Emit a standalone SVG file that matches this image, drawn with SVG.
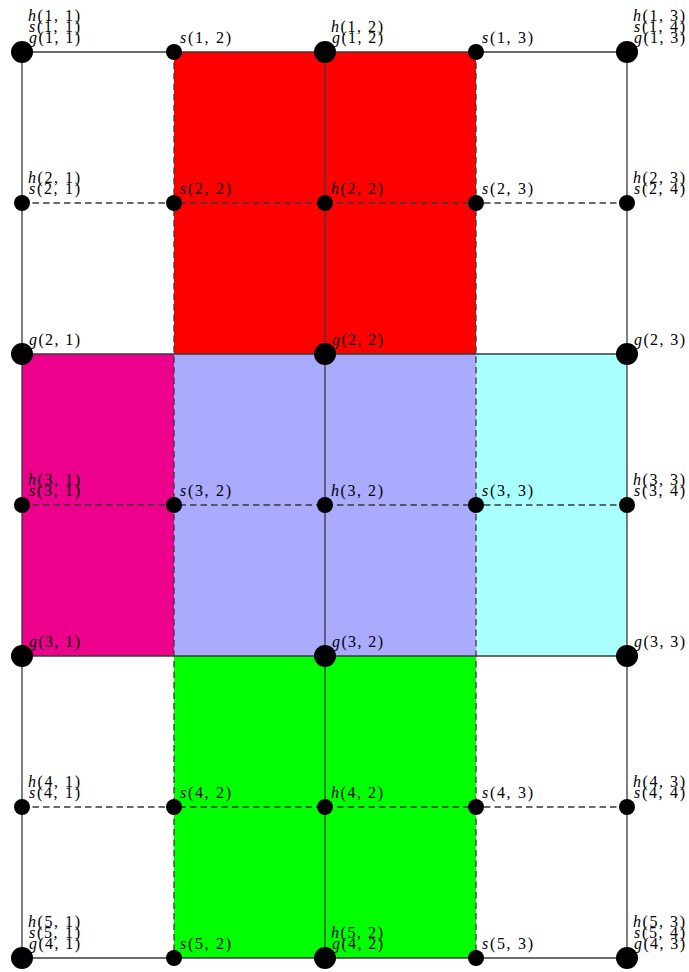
<svg xmlns="http://www.w3.org/2000/svg" width="689" height="972" viewBox="0 0 689 972">
<style>
.solid{stroke:#3a3a3a;stroke-width:1.3;fill:none}
.dash{stroke:#3a3a3a;stroke-width:1.3;fill:none;stroke-dasharray:6.5 4}
.big{fill:#000}
.small{fill:#000}
text{font-family:"Liberation Serif","DejaVu Serif",serif;font-size:16px;fill:#000}
.i{font-style:italic}
</style>
<rect x="0" y="0" width="689" height="972" fill="#fff"/>
<g id="regions">
<rect x="174" y="52" width="302" height="302" fill="#ff0000"/>
<rect x="22" y="354" width="152" height="302" fill="#ec008c"/>
<rect x="174" y="354" width="302" height="302" fill="#aaaaff"/>
<rect x="476" y="354" width="151" height="302" fill="#aaffff"/>
<rect x="174" y="656" width="302" height="302" fill="#00ff00"/>
</g>
<g id="connectors">
<line class="dash" x1="22" y1="203" x2="627" y2="203"/>
<line class="dash" x1="22" y1="505" x2="627" y2="505"/>
<line class="dash" x1="22" y1="807" x2="627" y2="807"/>
<line class="dash" x1="174" y1="52" x2="174" y2="958"/>
<line class="dash" x1="476" y1="52" x2="476" y2="958"/>
<line class="solid" x1="22" y1="52" x2="627" y2="52"/>
<line class="solid" x1="22" y1="354" x2="627" y2="354"/>
<line class="solid" x1="22" y1="656" x2="627" y2="656"/>
<line class="solid" x1="22" y1="958" x2="627" y2="958"/>
<line class="solid" x1="22" y1="52" x2="22" y2="958"/>
<line class="solid" x1="325" y1="52" x2="325" y2="958"/>
<line class="solid" x1="627" y1="52" x2="627" y2="958"/>
</g>
<!-- row 1 -->
<g id="n_1_1"><circle class="big" cx="22" cy="52" r="11"/>
<text x="28" y="20.5" textLength="52" lengthAdjust="spacing"><tspan class="i">h</tspan>(1, 1)</text>
<text x="29" y="31.5" textLength="51" lengthAdjust="spacing"><tspan class="i">s</tspan>(1, 1)</text>
<text x="29" y="42.5" textLength="51" lengthAdjust="spacing"><tspan class="i">g</tspan>(1, 1)</text></g>
<g id="n_1_2"><circle class="small" cx="174" cy="52" r="8"/>
<text x="180" y="42.5" textLength="51" lengthAdjust="spacing"><tspan class="i">s</tspan>(1, 2)</text></g>
<g id="n_1_3"><circle class="big" cx="325" cy="52" r="11"/>
<text x="331" y="31.5" textLength="52" lengthAdjust="spacing"><tspan class="i">h</tspan>(1, 2)</text>
<text x="332" y="42.5" textLength="51" lengthAdjust="spacing"><tspan class="i">g</tspan>(1, 2)</text></g>
<g id="n_1_4"><circle class="small" cx="476" cy="52" r="8"/>
<text x="482" y="42.5" textLength="51" lengthAdjust="spacing"><tspan class="i">s</tspan>(1, 3)</text></g>
<g id="n_1_5"><circle class="big" cx="627" cy="52" r="11"/>
<text x="633" y="20.5" textLength="52" lengthAdjust="spacing"><tspan class="i">h</tspan>(1, 3)</text>
<text x="634" y="31.5" textLength="51" lengthAdjust="spacing"><tspan class="i">s</tspan>(1, 4)</text>
<text x="634" y="42.5" textLength="51" lengthAdjust="spacing"><tspan class="i">g</tspan>(1, 3)</text></g>
<!-- row 2 -->
<g id="n_2_1"><circle class="small" cx="22" cy="203" r="8"/>
<text x="28" y="183" textLength="52" lengthAdjust="spacing"><tspan class="i">h</tspan>(2, 1)</text>
<text x="29" y="194" textLength="51" lengthAdjust="spacing"><tspan class="i">s</tspan>(2, 1)</text></g>
<g id="n_2_2"><circle class="small" cx="174" cy="203" r="8"/>
<text x="180" y="194" textLength="51" lengthAdjust="spacing"><tspan class="i">s</tspan>(2, 2)</text></g>
<g id="n_2_3"><circle class="small" cx="325" cy="203" r="8"/>
<text x="331" y="194" textLength="52" lengthAdjust="spacing"><tspan class="i">h</tspan>(2, 2)</text></g>
<g id="n_2_4"><circle class="small" cx="476" cy="203" r="8"/>
<text x="482" y="194" textLength="51" lengthAdjust="spacing"><tspan class="i">s</tspan>(2, 3)</text></g>
<g id="n_2_5"><circle class="small" cx="627" cy="203" r="8"/>
<text x="633" y="183" textLength="52" lengthAdjust="spacing"><tspan class="i">h</tspan>(2, 3)</text>
<text x="634" y="194" textLength="51" lengthAdjust="spacing"><tspan class="i">s</tspan>(2, 4)</text></g>
<!-- row 3 -->
<g id="n_3_1"><circle class="big" cx="22" cy="354" r="11"/>
<text x="29" y="345" textLength="51" lengthAdjust="spacing"><tspan class="i">g</tspan>(2, 1)</text></g>
<g id="n_3_3"><circle class="big" cx="325" cy="354" r="11"/>
<text x="332" y="345" textLength="51" lengthAdjust="spacing"><tspan class="i">g</tspan>(2, 2)</text></g>
<g id="n_3_5"><circle class="big" cx="627" cy="354" r="11"/>
<text x="634" y="345" textLength="51" lengthAdjust="spacing"><tspan class="i">g</tspan>(2, 3)</text></g>
<!-- row 4 -->
<g id="n_4_1"><circle class="small" cx="22" cy="505" r="8"/>
<text x="28" y="485" textLength="52" lengthAdjust="spacing"><tspan class="i">h</tspan>(3, 1)</text>
<text x="29" y="496" textLength="51" lengthAdjust="spacing"><tspan class="i">s</tspan>(3, 1)</text></g>
<g id="n_4_2"><circle class="small" cx="174" cy="505" r="8"/>
<text x="180" y="496" textLength="51" lengthAdjust="spacing"><tspan class="i">s</tspan>(3, 2)</text></g>
<g id="n_4_3"><circle class="small" cx="325" cy="505" r="8"/>
<text x="331" y="496" textLength="52" lengthAdjust="spacing"><tspan class="i">h</tspan>(3, 2)</text></g>
<g id="n_4_4"><circle class="small" cx="476" cy="505" r="8"/>
<text x="482" y="496" textLength="51" lengthAdjust="spacing"><tspan class="i">s</tspan>(3, 3)</text></g>
<g id="n_4_5"><circle class="small" cx="627" cy="505" r="8"/>
<text x="633" y="485" textLength="52" lengthAdjust="spacing"><tspan class="i">h</tspan>(3, 3)</text>
<text x="634" y="496" textLength="51" lengthAdjust="spacing"><tspan class="i">s</tspan>(3, 4)</text></g>
<!-- row 5 -->
<g id="n_5_1"><circle class="big" cx="22" cy="656" r="11"/>
<text x="29" y="647" textLength="51" lengthAdjust="spacing"><tspan class="i">g</tspan>(3, 1)</text></g>
<g id="n_5_3"><circle class="big" cx="325" cy="656" r="11"/>
<text x="332" y="647" textLength="51" lengthAdjust="spacing"><tspan class="i">g</tspan>(3, 2)</text></g>
<g id="n_5_5"><circle class="big" cx="627" cy="656" r="11"/>
<text x="634" y="647" textLength="51" lengthAdjust="spacing"><tspan class="i">g</tspan>(3, 3)</text></g>
<!-- row 6 -->
<g id="n_6_1"><circle class="small" cx="22" cy="807" r="8"/>
<text x="28" y="787" textLength="52" lengthAdjust="spacing"><tspan class="i">h</tspan>(4, 1)</text>
<text x="29" y="798" textLength="51" lengthAdjust="spacing"><tspan class="i">s</tspan>(4, 1)</text></g>
<g id="n_6_2"><circle class="small" cx="174" cy="807" r="8"/>
<text x="180" y="798" textLength="51" lengthAdjust="spacing"><tspan class="i">s</tspan>(4, 2)</text></g>
<g id="n_6_3"><circle class="small" cx="325" cy="807" r="8"/>
<text x="331" y="798" textLength="52" lengthAdjust="spacing"><tspan class="i">h</tspan>(4, 2)</text></g>
<g id="n_6_4"><circle class="small" cx="476" cy="807" r="8"/>
<text x="482" y="798" textLength="51" lengthAdjust="spacing"><tspan class="i">s</tspan>(4, 3)</text></g>
<g id="n_6_5"><circle class="small" cx="627" cy="807" r="8"/>
<text x="633" y="787" textLength="52" lengthAdjust="spacing"><tspan class="i">h</tspan>(4, 3)</text>
<text x="634" y="798" textLength="51" lengthAdjust="spacing"><tspan class="i">s</tspan>(4, 4)</text></g>
<!-- row 7 -->
<g id="n_7_1"><circle class="big" cx="22" cy="958" r="11"/>
<text x="28" y="927" textLength="52" lengthAdjust="spacing"><tspan class="i">h</tspan>(5, 1)</text>
<text x="29" y="938" textLength="51" lengthAdjust="spacing"><tspan class="i">s</tspan>(5, 1)</text>
<text x="29" y="949" textLength="51" lengthAdjust="spacing"><tspan class="i">g</tspan>(4, 1)</text></g>
<g id="n_7_2"><circle class="small" cx="174" cy="958" r="8"/>
<text x="180" y="949" textLength="51" lengthAdjust="spacing"><tspan class="i">s</tspan>(5, 2)</text></g>
<g id="n_7_3"><circle class="big" cx="325" cy="958" r="11"/>
<text x="331" y="938" textLength="52" lengthAdjust="spacing"><tspan class="i">h</tspan>(5, 2)</text>
<text x="332" y="949" textLength="51" lengthAdjust="spacing"><tspan class="i">g</tspan>(4, 2)</text></g>
<g id="n_7_4"><circle class="small" cx="476" cy="958" r="8"/>
<text x="482" y="949" textLength="51" lengthAdjust="spacing"><tspan class="i">s</tspan>(5, 3)</text></g>
<g id="n_7_5"><circle class="big" cx="627" cy="958" r="11"/>
<text x="633" y="927" textLength="52" lengthAdjust="spacing"><tspan class="i">h</tspan>(5, 3)</text>
<text x="634" y="938" textLength="51" lengthAdjust="spacing"><tspan class="i">s</tspan>(5, 4)</text>
<text x="634" y="949" textLength="51" lengthAdjust="spacing"><tspan class="i">g</tspan>(4, 3)</text></g>
</svg>
